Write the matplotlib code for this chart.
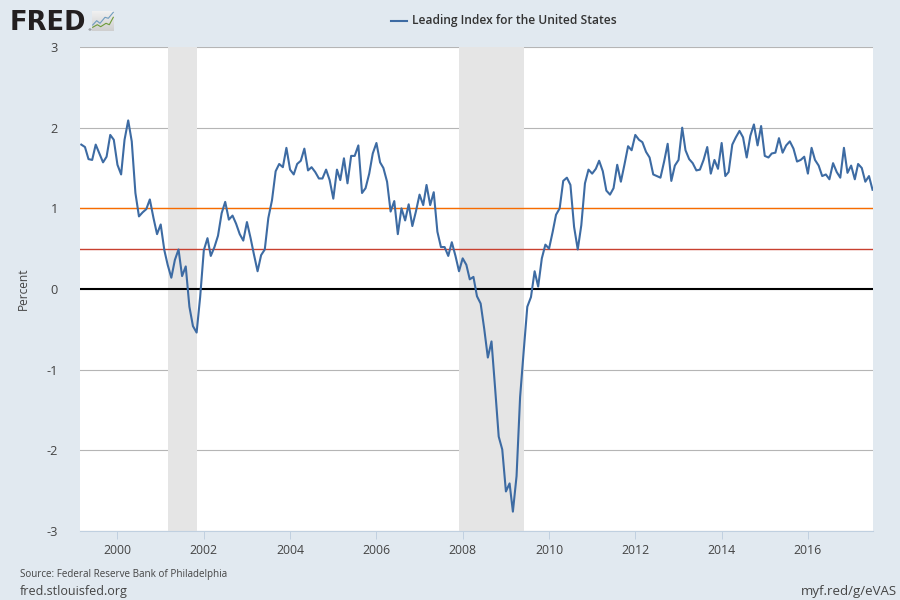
"""FRED style line chart: Leading Index for the United States."""

import matplotlib
matplotlib.use("Agg")
import matplotlib.dates as mdates
import matplotlib.pyplot as plt
import pandas as pd
from matplotlib.lines import Line2D
from matplotlib.patches import Rectangle

# monthly values, Mar 1999 to Jul 2017
LEADING_INDEX = [
    1.79, 1.76, 1.61, 1.60, 1.79, 1.68, 1.57, 1.64, 1.91, 1.85,
    1.54, 1.42, 1.85, 2.09, 1.83, 1.19, 0.90, 0.95, 0.99, 1.11,
    0.88, 0.68, 0.80, 0.48, 0.30, 0.14, 0.36, 0.49, 0.16, 0.28,
    -0.22, -0.46, -0.54, -0.10, 0.48, 0.63, 0.41, 0.52, 0.66, 0.94,
    1.08, 0.86, 0.91, 0.81, 0.68, 0.60, 0.83, 0.63, 0.43, 0.22,
    0.42, 0.49, 0.88, 1.10, 1.46, 1.55, 1.51, 1.75, 1.48, 1.42,
    1.55, 1.59, 1.74, 1.47, 1.51, 1.45, 1.37, 1.37, 1.48, 1.35,
    1.12, 1.48, 1.35, 1.62, 1.31, 1.65, 1.65, 1.78, 1.19, 1.25,
    1.43, 1.68, 1.81, 1.57, 1.50, 1.33, 0.96, 1.09, 0.68, 1.00,
    0.85, 1.05, 0.78, 0.96, 1.17, 1.04, 1.29, 1.04, 1.20, 0.71,
    0.52, 0.52, 0.41, 0.58, 0.41, 0.22, 0.38, 0.30, 0.12, 0.15,
    -0.09, -0.18, -0.49, -0.85, -0.65, -1.22, -1.83, -1.99, -2.51, -2.41,
    -2.76, -2.32, -1.34, -0.76, -0.22, -0.10, 0.22, 0.03, 0.38, 0.55,
    0.50, 0.71, 0.92, 1.00, 1.34, 1.38, 1.29, 0.77, 0.49, 0.79,
    1.31, 1.48, 1.43, 1.49, 1.59, 1.46, 1.22, 1.17, 1.25, 1.54,
    1.33, 1.54, 1.77, 1.72, 1.91, 1.85, 1.82, 1.70, 1.63, 1.42,
    1.40, 1.38, 1.58, 1.80, 1.34, 1.53, 1.60, 2.00, 1.72, 1.61,
    1.56, 1.47, 1.48, 1.60, 1.76, 1.43, 1.60, 1.49, 1.81, 1.40,
    1.45, 1.79, 1.88, 1.96, 1.88, 1.63, 1.90, 2.04, 1.78, 2.02,
    1.65, 1.63, 1.68, 1.69, 1.87, 1.69, 1.78, 1.83, 1.74, 1.58,
    1.60, 1.64, 1.43, 1.75, 1.60, 1.53, 1.40, 1.42, 1.36, 1.56,
    1.45, 1.38, 1.75, 1.44, 1.53, 1.36, 1.55, 1.50, 1.33, 1.40,
    1.23,
]
DATES = pd.date_range("1999-03-01", periods=len(LEADING_INDEX), freq="MS")
RECESSIONS = [("2001-03-01", "2001-11-01"), ("2007-12-01", "2009-06-01")]
YEAR_TICKS = [2000, 2002, 2004, 2006, 2008, 2010, 2012, 2014, 2016]
Y_TICKS = [-3, -2, -1, 0, 1, 2, 3]

BG = "#e1e9f0"
LINE_BLUE = "#3d6ba3"
TEXT = "#444444"
FONT = "Open Sans"


def px(x, y):
    # picture pixels to figure fractions
    return x / 900, 1 - y / 600


def draw_chart(ax):
    for start, end in RECESSIONS:
        ax.axvspan(pd.Timestamp(start), pd.Timestamp(end), color="#e5e5e5",
                   linewidth=0, zorder=1)

    ax.grid(True, axis="y", color="#b5b5b5", linewidth=0.8, zorder=2)
    ax.set_axisbelow(True)
    ax.axhline(1.0, color="#f76c00", linewidth=1.0, zorder=3)
    ax.axhline(0.5, color="#c8402f", linewidth=1.0, zorder=3)
    ax.axhline(0.0, color="black", linewidth=1.5, zorder=3)
    ax.plot(DATES, LEADING_INDEX, color=LINE_BLUE, linewidth=1.5, zorder=4)

    ax.set_xlim(pd.Timestamp("1999-02-18"), pd.Timestamp("2017-07-05"))
    ax.set_ylim(-3, 3)
    ax.set_yticks(Y_TICKS)
    ax.set_yticklabels([str(v) for v in Y_TICKS])
    ax.set_xticks([pd.Timestamp(f"{y}-01-01") for y in YEAR_TICKS])
    ax.xaxis.set_major_formatter(mdates.DateFormatter("%Y"))
    ax.tick_params(axis="y", length=0, pad=16, labelsize=9.2, labelcolor=TEXT)
    ax.tick_params(axis="x", length=6, width=0.7, color="#c0d0e0", pad=3,
                   labelsize=8.8, labelcolor=TEXT)
    for side in ("left", "right", "top"):
        ax.spines[side].set_visible(False)
    ax.spines["bottom"].set_color("#c0d0e0")
    ax.spines["bottom"].set_linewidth(0.8)
    for label in ax.get_xticklabels() + ax.get_yticklabels():
        label.set_family(FONT)


def draw_header(fig):
    x, y = px(10, 30)
    fig.text(x, y, "FRED", family="DejaVu Sans", weight="bold", fontsize=18.5,
             color="#231f20", va="baseline")
    x, y = px(87.5, 31)
    fig.text(x, y, "®", family="DejaVu Sans", fontsize=3, color="#231f20",
             va="baseline")

    # little chart icon next to the logo, light at the top and darker below
    for row in range(20):
        shade = 0.94 - 0.13 * row / 19
        x0, y0 = px(92, 12 + row)
        fig.add_artist(Rectangle((x0, y0), 22 / 900, 1 / 600,
                                 facecolor=(shade, shade, shade),
                                 edgecolor="none", transform=fig.transFigure))
    for xs, ys, color in [
        ([92.7, 96.7, 100, 105, 108.3, 113.3], [25, 20.7, 23.3, 17.3, 18.3, 12.3], "#6f9cbf"),
        ([92.7, 97.3, 100.7, 106, 109.3, 113.3], [27.3, 24.7, 26.7, 23.3, 24.7, 17.3], "#6e9b3a"),
    ]:
        pts = [px(a, b) for a, b in zip(xs, ys)]
        fig.add_artist(Line2D([p[0] for p in pts], [p[1] for p in pts],
                              color=color, linewidth=0.8,
                              transform=fig.transFigure))

    (x1, y1), (x2, _) = px(391, 20.5), px(407, 20.5)
    fig.add_artist(Line2D([x1, x2], [y1, y1], color=LINE_BLUE, linewidth=1.5,
                          transform=fig.transFigure))
    x, y = px(412, 20.5)
    fig.text(x, y, "Leading Index for the United States", family=FONT,
             weight="semibold", fontsize=8.65, color="#333333", va="center")


def draw_footer(fig):
    x, y = px(20, 574)
    fig.text(x, y, "Source: Federal Reserve Bank of Philadelphia", family=FONT,
             fontsize=7.15, color=TEXT, va="center")
    x, y = px(20, 591)
    fig.text(x, y, "fred.stlouisfed.org", family=FONT, fontsize=9.0,
             color=TEXT, va="center")
    x, y = px(897, 591)
    fig.text(x, y, "myf.red/g/eVAS", family=FONT, fontsize=9.5, color=TEXT,
             va="center", ha="right")
    x, y = px(23, 289)
    fig.text(x, y, "Percent", family=FONT, fontsize=8.6, color=TEXT,
             rotation=90, va="center", ha="center")


def main():
    fig = plt.figure(figsize=(9, 6), dpi=100, facecolor=BG)
    ax = fig.add_axes([80 / 900, 69 / 600, 793 / 900, 484 / 600])
    draw_chart(ax)
    draw_header(fig)
    draw_footer(fig)
    fig.savefig("out.png", dpi=100, facecolor=BG)


if __name__ == "__main__":
    main()
